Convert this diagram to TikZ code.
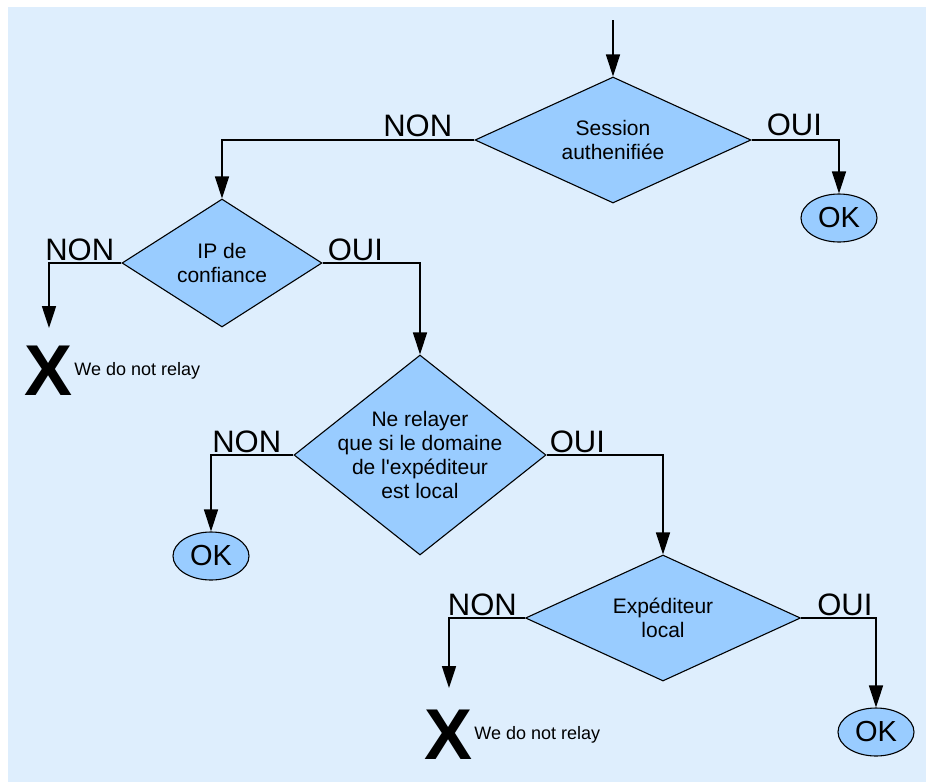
\documentclass[tikz,border=0pt]{standalone}
\usepackage{fontspec}
\setmainfont{Liberation Sans}
\usetikzlibrary{arrows.meta,
  calc,
  positioning,
  shapes.geometric
}
\definecolor{bgblue}{RGB}{222,238,253}
\definecolor{boxblue}{RGB}{153,204,255}
\tikzset{
  decision/.style={diamond, draw=black, fill=boxblue, line width=1.1pt,
    inner sep=0pt, aspect=2, align=center,
    font=\fontsize{21}{24}\selectfont},
  okbox/.style={ellipse, draw=black, fill=boxblue, line width=1.1pt,
    inner sep=0pt, minimum width=76pt, minimum height=48pt,
    font=\fontsize{29}{29}\selectfont},
  answer/.style={inner sep=0pt, font=\fontsize{31}{31}\selectfont},
  refuse/.style={inner sep=0pt, font=\fontsize{72}{72}\selectfont\bfseries},
  relaynote/.style={inner sep=0pt, anchor=west,
    font=\fontsize{18}{18}\selectfont},
  flow/.style={-{Triangle[length=22pt,width=14pt]}, line width=1.6pt}
}

\begin{document}
\begin{tikzpicture}[x=1pt, y=-1pt]
  \useasboundingbox (0,0) rectangle (926,782);
  \fill[bgblue] (8,7) rectangle (926,782);

  \coordinate (start) at (613,20);
  \node[decision, minimum width=276pt, minimum height=126pt]
  (session) at (613,140) {Session\\authenifiée};
  \node[okbox] (ok session) at (839,218) {OK};

  \node[decision, minimum width=200pt, minimum height=128pt, aspect=1.56]
  (trusted ip) at (222,263) {IP de\\confiance};
  \node[refuse] (refuse ip) at (49,371) {X};
  \node[relaynote] (note ip) at ([xshift=1pt]refuse ip.east) {We do not relay};

  \node[decision, minimum width=252pt, minimum height=200pt, aspect=1.25,
  inner sep=-14pt] (local domain) at (420,455)
  {Ne relayer\\que si le domaine\\de l\textquotesingle expéditeur\\est local};
  \node[okbox] (ok domain) at (211,556) {OK};

  \node[decision, minimum width=275pt, minimum height=126pt]
  (local sender) at (663,618) {Expéditeur\\local};
  \node[refuse] (refuse sender) at (449,735) {X};
  \node[relaynote] (note sender) at ([xshift=1pt]refuse sender.east)
  {We do not relay};
  \node[okbox] (ok sender) at (876,732) {OK};

  % answers on the branches
  \node[answer, anchor=base east] (session no)
  at ([xshift=-22pt, yshift=4pt]session.west) {NON};
  \node[answer, anchor=base west] (session yes)
  at ([xshift=15pt, yshift=5pt]session.east) {OUI};
  \node[answer, anchor=base east] (trusted ip no)
  at ([xshift=-7pt, yshift=3pt]trusted ip.west) {NON};
  \node[answer, anchor=base west] (trusted ip yes)
  at ([xshift=5pt, yshift=3pt]trusted ip.east) {OUI};
  \node[answer, anchor=base east] (local domain no)
  at ([xshift=-12pt, yshift=3pt]local domain.west) {NON};
  \node[answer, anchor=base west] (local domain yes)
  at ([xshift=3pt, yshift=3pt]local domain.east) {OUI};
  \node[answer, anchor=base east] (local sender no)
  at ([xshift=-8pt, yshift=3pt]local sender.west) {NON};
  \node[answer, anchor=base west] (local sender yes)
  at ([xshift=16pt, yshift=3pt]local sender.east) {OUI};

  \draw[flow] (start) -- (session.north);
  \draw[flow] (session.west) -| (trusted ip.north);
  \draw[flow] (session.east) -| (ok session.north);
  \draw[flow, shorten >=18pt] (trusted ip.west) -| (refuse ip.north);
  \draw[flow] (trusted ip.east) -| (local domain.north);
  \draw[flow] (local domain.west) -| (ok domain.north);
  \draw[flow] (local domain.east) -| (local sender.north);
  \draw[flow, shorten >=22pt] (local sender.west) -| (refuse sender.north);
  \draw[flow] (local sender.east) -| (ok sender.north);
\end{tikzpicture}
\end{document}
